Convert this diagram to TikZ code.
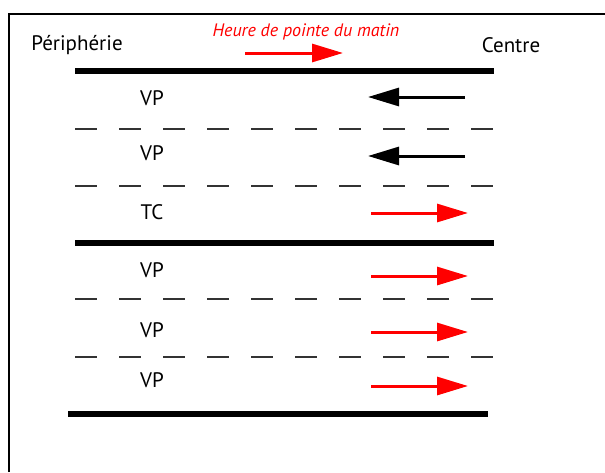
\documentclass[tikz,border=0pt]{standalone}
\usepackage{fontspec}
\setmainfont{PT Sans}
\usetikzlibrary{arrows.meta}
\tikzset{
  curb/.style={line width=6pt},
  lanemark/.style={line width=2pt, dash pattern=on 22pt off 22pt, black!80},
  flow/.style={line width=3pt, -{Triangle[length=31pt,width=18pt]}},
}
\begin{document}
\begin{tikzpicture}[x=1pt,y=-1pt, font=\fontsize{21}{24}\selectfont]
	\useasboundingbox (0,0) rectangle (605,472);
	\draw[line width=2pt] (9,472) -- (9,14) -- (605,14);
	\node (peri) at (77,45) {Périphérie};
	\node (centre) at (511,45) {Centre};
	\node[red, font=\itshape\fontsize{18}{21}\selectfont] (heure) at (306,32) {Heure de pointe du matin};
	\draw[flow, red] (245,53) -- (343,53);
	% bordures et marquages
	\foreach \y in {71,243}{
		\draw[curb] (75,\y) -- (494,\y);
	}
	\draw[curb] (68,414) -- (488,414);
	\foreach \y in {129,186,299,357}{
		\draw[lanemark] (75,\y) -- (493,\y);
	}
	% voies
	\foreach \n\t\y\ya\xa\xb\c in {1/VP/98/97/465/368/black,2/VP/153/156/465/368/black,3/TC/212/213/371/468/red,4/VP/270/276/371/468/red,5/VP/330/332/371/468/red,6/VP/380/386/371/468/red}{
		\node (lane\n) at (152,\y) {\t};
		\draw[flow, \c] (\xa,\ya) -- (\xb,\ya);
	}
\end{tikzpicture}
\end{document}
